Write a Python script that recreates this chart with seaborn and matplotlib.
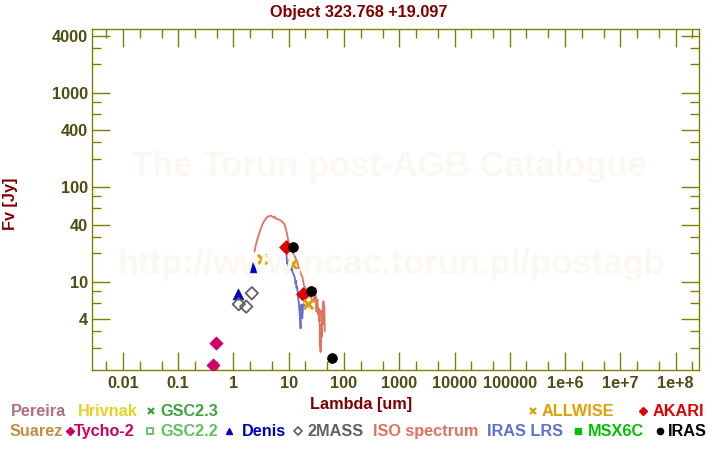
import matplotlib
matplotlib.use("Agg")
import matplotlib.pyplot as plt
from matplotlib.lines import Line2D
import numpy as np
import pandas as pd
import seaborn as sns

# ---------------- data ----------------
tycho_wl = [0.42, 0.49]
tycho_fl = [1.31, 2.23]
denis_wl = [1.22, 2.15]
denis_fl = [7.41, 14.4]
tmass_wl = [1.25, 1.70, 2.15]
tmass_fl = [5.77, 5.44, 7.54]
allwise_wl = [3.35, 11.6, 22.1]
allwise_fl = [17.4, 15.3, 5.77]
akari_wl = [9.0, 18.0]
akari_fl = [23.1, 7.36]
iras_wl = [12.0, 25.0, 60.0]
iras_fl = [23.1, 7.91, 1.55]

iso_wl = [2.40, 2.55, 2.69, 2.88, 3.08, 3.30, 3.54, 3.80, 4.08, 4.45, 4.82, 5.10,
          5.37, 5.60, 5.85, 6.19, 6.90, 7.63, 8.10, 8.50, 9.00, 9.40, 10.0, 10.8,
          11.6, 12.4, 13.3, 14.3, 15.2, 16.4, 17.6, 18.8, 20.2, 21.6, 23.2, 24.8,
          26.5, 28.5, 29.5, 30.6, 31.3, 31.9, 33.0, 34.0, 35.0, 35.7, 36.2, 36.6,
          37.2, 37.7, 38.5, 39.5, 40.5, 41.5, 42.5, 43.2, 44.0, 45.0]
iso_fl = [20.8, 24.5, 27.6, 31.5, 35.3, 39.5, 43.1, 46.0, 48.0, 49.5, 49.9, 48.5,
          47.6, 48.8, 46.5, 46.1, 45.0, 43.1, 41.5, 39.8, 35.0, 31.2, 25.5, 21.6,
          20.5, 19.2, 17.8, 16.3, 13.9, 12.3, 11.3, 9.2, 8.5, 7.8, 7.3, 6.9,
          6.5, 6.1, 8.0, 8.5, 5.5, 4.8, 6.5, 4.5, 5.2, 3.8, 5.0, 2.1,
          3.0, 1.8, 3.5, 2.6, 5.0, 4.0, 6.2, 3.5, 5.5, 3.0]

lrs_wl = [9.1, 9.3, 9.6, 9.9, 10.3, 10.8, 11.3, 11.8, 12.4, 13.0, 13.3, 13.6, 13.8,
          14.2, 14.6, 14.9, 15.2, 15.6, 15.9, 16.2, 16.4, 16.7, 16.9, 17.2, 17.6,
          18.0, 18.4, 18.8, 19.4]
lrs_fl = [20.0, 15.5, 17.0, 14.0, 13.5, 13.3, 14.0, 12.5, 11.8, 10.8, 9.5, 10.2, 8.5,
          8.8, 7.5, 6.5, 6.1, 5.0, 4.4, 3.6, 3.2, 5.0, 5.7, 4.8, 4.1,
          5.0, 5.8, 5.7, 5.6]

xtick_vals = [0.01, 0.1, 1, 10, 100, 1000, 1e4, 1e5, 1e6, 1e7, 1e8]
xtick_labels = ["0.01", "0.1", "1", "10", "100", "1000", "10000", "100000",
                "1e+6", "1e+7", "1e+8"]
ytick_vals = [4, 10, 40, 100, 400, 1000, 4000]
ytick_labels = ["4", "10", "40", "100", "400", "1000", "4000"]

# ---------------- style ----------------
sns.set_theme(style="white")
plt.rcParams["font.family"] = ["Liberation Sans", "DejaVu Sans"]
plt.rcParams["font.weight"] = "bold"

OLIVE = "#808000"
TICKCOL = "#4d4d14"
DARKRED = "#800000"
FS = 11.7

W, H = 720, 450
fig = plt.figure(figsize=(7.2, 4.5), dpi=100)
L, R, T, B = 92, 699, 29.3, 370
ax = fig.add_axes([L / W, 1 - B / H, (R - L) / W, (B - T) / H])
ax.set_facecolor("white")

def fx(px):
    return px / W

def fy(py):
    return 1 - py / H

# watermark
fig.text(fx(389), fy(176), "The Torun post-AGB Catalogue", ha="center", va="baseline",
         fontsize=25, fontweight="bold", color="#fbf8f2", zorder=0)
fig.text(fx(391.5), fy(274), "http://www.ncac.torun.pl/postagb", ha="center", va="baseline",
         fontsize=25, fontweight="bold", color="#fbf8f2", zorder=0)

# spectra
sns.lineplot(x=iso_wl, y=iso_fl, ax=ax, color="#e07060", lw=1.3, sort=False,
             estimator=None, zorder=3)
sns.lineplot(x=lrs_wl, y=lrs_fl, ax=ax, color="#6070d0", lw=1.3, sort=False,
             estimator=None, zorder=2)

# photometry
sns.scatterplot(x=tycho_wl, y=tycho_fl, ax=ax, marker="D", color="#cc0066", s=45,
                edgecolor="#cc0066", linewidth=0.5, zorder=5)
sns.scatterplot(x=denis_wl, y=denis_fl, ax=ax, marker="^", color="#0000c0", s=60,
                edgecolor="#0000c0", linewidth=0.5, zorder=5)
sns.scatterplot(x=tmass_wl, y=tmass_fl, ax=ax, marker="D", facecolor="none", s=40,
                edgecolor="#606060", linewidth=1.3, zorder=5)
sns.scatterplot(x=akari_wl, y=akari_fl, ax=ax, marker="D", color="#e00000", s=50,
                edgecolor="#e00000", linewidth=0.5, zorder=6)
sns.scatterplot(x=iras_wl, y=iras_fl, ax=ax, marker="o", color="black", s=50,
                edgecolor="black", linewidth=0.5, zorder=6)
sns.scatterplot(x=allwise_wl, y=allwise_fl, ax=ax, marker="x", color="#e0a000", s=45,
                linewidth=2.2, zorder=7)

# axes
ax.set_xscale("log")
ax.set_yscale("log")

ax.set_xticks(xtick_vals)
ax.set_xticklabels(xtick_labels)
xminor = [m * 10.0 ** k for k in range(-3, 9) for m in (2, 5)]
ax.set_xticks(xminor, minor=True)
ax.set_xticklabels([], minor=True)

ax.set_yticks(ytick_vals)
ax.set_yticklabels(ytick_labels)
yminor = [m * 10.0 ** k for k in range(0, 4) for m in (2, 3, 6, 8)]
ax.set_yticks(yminor, minor=True)
ax.set_yticklabels([], minor=True)

ax.set_xlim(0.00276, 2.65e8)
ax.set_ylim(1.16, 4690)

ax.tick_params(which="both", direction="in", top=True, right=True, bottom=True, left=True,
               color=OLIVE, width=1.0, labelsize=FS, labelcolor=TICKCOL)
ax.tick_params(which="major", length=13)
ax.tick_params(which="minor", length=6.5)
ax.tick_params(axis="x", which="major", pad=4)
ax.tick_params(axis="y", which="major", pad=3)
for lab in ax.get_xticklabels() + ax.get_yticklabels():
    lab.set_fontweight("bold")
for sp in ax.spines.values():
    sp.set_color(OLIVE)
    sp.set_linewidth(1.0)
ax.grid(False)
ax.set_xlabel("")
ax.set_ylabel("")

# titles
fig.text(fx(359), fy(16.7), "Object 323.768 +19.097", ha="center", va="baseline",
         fontsize=FS, fontweight="bold", color=DARKRED)
fig.text(fx(361), fy(409), "Lambda [um]", ha="center", va="baseline",
         fontsize=FS, fontweight="bold", color=DARKRED)
fig.text(fx(10), fy(204), "Fv [Jy]", ha="center", va="center", rotation=90,
         fontsize=FS, fontweight="bold", color=DARKRED)

# legend (manual, two rows of coloured text)
def label(px, base, txt, col):
    fig.text(fx(px), fy(base), txt, ha="left", va="baseline", fontsize=FS,
             fontweight="bold", color=col)

def mark(px, py, m, col, ms, filled=True, mew=1.0):
    fig.add_artist(Line2D([fx(px)], [fy(py)], marker=m, markersize=ms,
                          markerfacecolor=col if filled else "none",
                          markeredgecolor=col, markeredgewidth=mew,
                          linestyle="none", transform=fig.transFigure))

r1, r2 = 416, 436.3
c1, c2 = 410.5, 431
label(11, r1, "Pereira", "#b07080")
label(78, r1, "Hrivnak", "#e6d020")
mark(150.5, c1, "x", "#40a040", 4.5, mew=1.6)
label(160, r1, "GSC2.3", "#40a040")
mark(533, c1, "x", "#e0a000", 5, mew=1.6)
label(542, r1, "ALLWISE", "#e0a000")
mark(643, c1, "D", "#e00000", 4.5)
label(653, r1, "AKARI", "#e00000")

label(10, r2, "Suarez", "#c09040")
mark(70, c2, "D", "#cc0066", 4.5)
label(74, r2, "Tycho-2", "#cc0066")
mark(150, c2, "s", "#60c060", 4, filled=False, mew=1.3)
label(160, r2, "GSC2.2", "#60c060")
mark(229.5, c2, "^", "#0000c0", 5)
label(242, r2, "Denis", "#0000c0")
mark(298, c2, "D", "#606060", 4.5, filled=False, mew=1.2)
label(307, r2, "2MASS", "#606060")
label(373, r2, "ISO spectrum", "#e07060")
label(487, r2, "IRAS LRS", "#6070d0")
mark(578, c2, "s", "#00c000", 4.5)
label(588, r2, "MSX6C", "#00c000")
mark(660, c2, "o", "black", 4.5)
label(668, r2, "IRAS", "black")

fig.savefig("out.png", dpi=100)
